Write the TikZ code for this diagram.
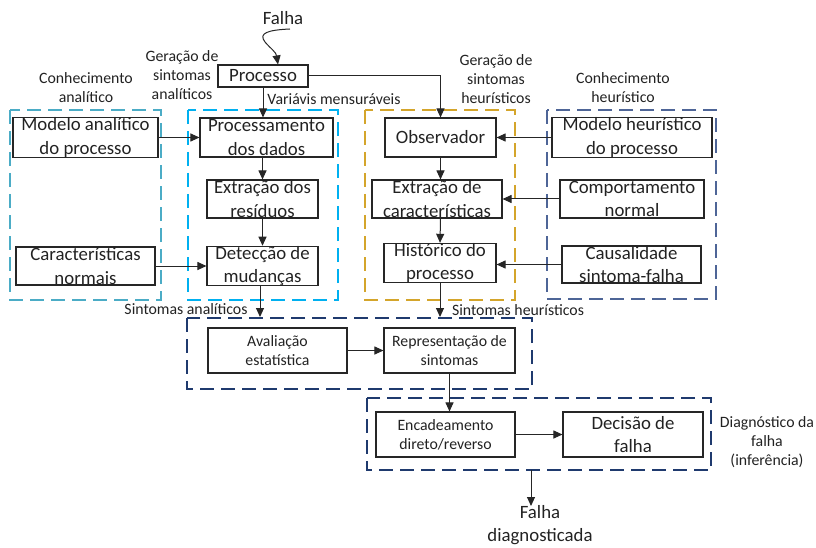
\documentclass[tikz,border=0pt]{standalone}
\usepackage{fontspec}
\setmainfont{Carlito}
\usetikzlibrary{arrows.meta,calc}
\definecolor{cteal}{HTML}{4BACC6}
\definecolor{ccyan}{HTML}{00B0F0}
\definecolor{corange}{HTML}{D4A52B}
\definecolor{cslate}{HTML}{4E6597}
\definecolor{cnavy}{HTML}{1F3A6E}
\definecolor{ctext}{HTML}{222222}
\begin{document}
\begin{tikzpicture}[x=1pt,y=-1pt,
  bigfont/.style={font=\fontsize{18.8}{23.2}\selectfont},
  smallfont/.style={font=\fontsize{15.8}{19}\selectfont},
  blk/.style={draw=black!85,line width=1.1pt,inner sep=0pt,align=center,text=ctext},
  bigbox/.style={blk,bigfont},
  smallbox/.style={blk,smallfont},
  lbl/.style={align=center,inner sep=0pt,text=ctext},
  group/.style={line width=1.2pt,dash pattern=on 14pt off 7pt},
  arr/.style={line width=1pt,draw=black!85,-{Triangle[length=9pt,width=8pt]}},
]
\useasboundingbox (0,0) rectangle (816,548);
% dashed groups
\draw[group,cteal] (10,110) rectangle (161,300);
\draw[group,ccyan] (188,110) rectangle (338,300);
\draw[group,corange] (365,110) rectangle (515,300);
\draw[group,cslate] (547,110) rectangle (716,299);
\draw[group,cnavy] (187,318) rectangle (532,389);
\draw[group,cnavy] (367,398) rectangle (711,470);
% boxes
\node[bigbox,minimum width=90pt,minimum height=22pt] (proc) at (263,76) {Processo};
\node[bigbox,minimum width=145pt,minimum height=39pt] (modA) at (85.5,137.5) {Modelo analítico\\do processo};
\node[bigbox,minimum width=133pt,minimum height=39pt] (procd) at (266.5,137.5) {Processamento\\dos dados};
\node[bigbox,minimum width=111pt,minimum height=38pt] (extr) at (262.5,199) {Extração dos\\resíduos};
\node[bigbox,minimum width=111pt,minimum height=38pt] (det) at (262.5,266) {Detecção de\\mudanças};
\node[bigbox,minimum width=139pt,minimum height=38pt] (carn) at (85.5,266) {Características\\normais};
\node[bigbox,minimum width=111pt,minimum height=39pt] (obs) at (440.5,137.5) {Observador};
\node[bigbox,minimum width=160pt,minimum height=39pt] (modH) at (632,137.5) {Modelo heurístico\\do processo};
\node[bigbox,minimum width=130pt,minimum height=38pt] (extc) at (437,199) {Extração de\\características};
\node[bigbox,minimum width=144pt,minimum height=38pt] (comp) at (632,199) {Comportamento\\normal};
\node[bigbox,minimum width=112pt,minimum height=38pt] (hist) at (440,263) {Histórico do\\processo};
\node[bigbox,minimum width=139pt,minimum height=37pt] (caus) at (631.5,264.5) {Causalidade\\sintoma-falha};
\node[smallbox,minimum width=139pt,minimum height=45pt] (aval) at (277.5,350.5) {Avaliação\\estatística};
\node[smallbox,minimum width=131pt,minimum height=45pt] (repr) at (449.5,350.5) {Representação de\\sintomas};
\node[smallbox,minimum width=139pt,minimum height=45pt] (enc) at (445.5,434.5) {Encadeamento\\direto/reverso};
\node[bigbox,minimum width=140pt,minimum height=45pt] (dec) at (633,434.5) {Decisão de\\falha};
% labels
\node[lbl,bigfont] (falha) at (283,18) {Falha};
\node[lbl,smallfont] (gsa) at (182,75) {Geração de\\sintomas\\analíticos};
\node[lbl,smallfont] (ca) at (86,87.5) {Conhecimento\\analítico};
\node[lbl,smallfont] (vm) at (334,99) {Variávis mensuráveis};
\node[lbl,smallfont] (gsh) at (496,79) {Geração de\\sintomas\\heurísticos};
\node[lbl,smallfont] (ch) at (623,87.5) {Conhecimento\\heurístico};
\node[lbl,smallfont] (sa) at (186,309) {Sintomas analíticos};
\node[lbl,smallfont] (sh) at (518,310) {Sintomas heurísticos};
\node[lbl,bigfont] (fd) at (540,525) {Falha\\diagnosticada};
\node[lbl,smallfont] (dfi) at (767,442) {Diagnóstico da\\falha\\(inferência)};
% coordinates
\coordinate (sqs) at (290,29);
\coordinate (saend) at (260,317);
\coordinate (shend) at (440,317);
\coordinate (fdstart) at (531,470);
\coordinate (fdend) at (531,506);
% connectors
\draw[arr] (sqs) .. controls (268,30) and (258,33) .. (265,42) .. controls (271,49) and (276,52) .. (proc.north -| 278,0);
\draw[arr] (proc.east) -| (obs.north);
\draw[arr] (proc.south) -- (proc.south |- procd.north);
\draw[arr] (modA.east) -- (procd.west);
\draw[arr] (extr.north |- procd.south) -- (extr.north);
\draw[arr] (extr.south) -- (det.north);
\draw[arr] (carn.east) -- (det.west);
\draw[arr] (saend |- det.south) -- (saend);
\draw[arr] (modH.west) -- (obs.east);
\draw[arr] (obs.south) -- (obs.south |- extc.north);
\draw[arr] (comp.west) -- (extc.east);
\draw[arr] (extc.south -| obs.south) -- (hist.north);
\draw[arr] (caus.west) -- (caus.west -| hist.east);
\draw[arr] (hist.south) -- (shend);
\draw[arr] (aval.east) -- (repr.west);
\draw[arr] (repr.south) -- (repr.south |- enc.north);
\draw[arr] (enc.east) -- (dec.west);
\draw[arr] (fdstart) -- (fdend);
\end{tikzpicture}
\end{document}
